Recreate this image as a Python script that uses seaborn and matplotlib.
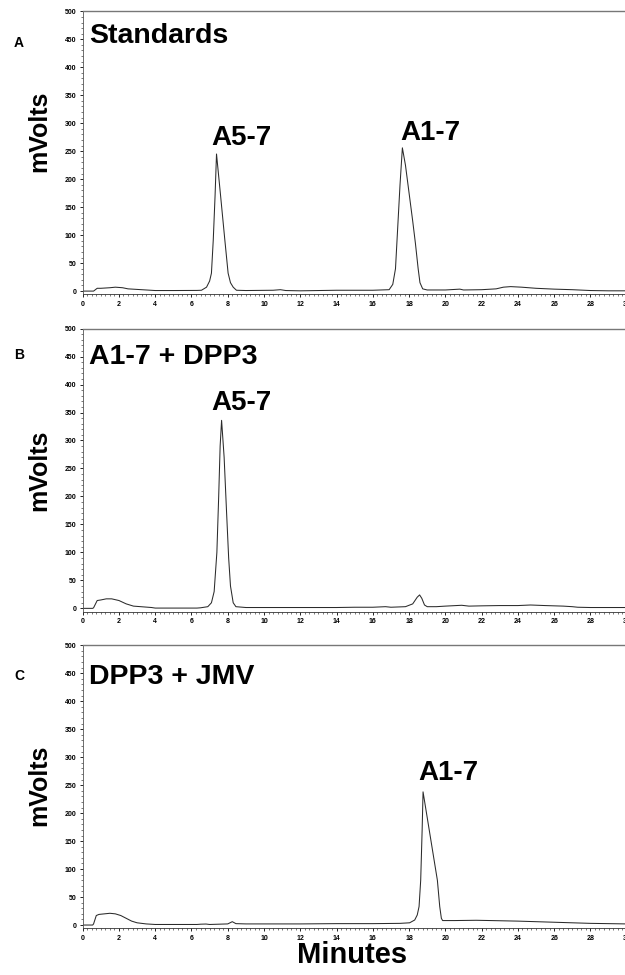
import matplotlib

matplotlib.use("Agg")
import matplotlib.pyplot as plt
import pandas as pd
import seaborn as sns
from matplotlib.ticker import MultipleLocator

# retention time (min) / detector signal (mV)
TIME_A = [0, 0.6, 0.8, 1.0, 1.5, 1.8, 2.2, 2.5, 3.0, 3.5, 4.0, 5.0, 6.3, 6.55, 6.83, 7.0,
          7.1, 7.2, 7.3, 7.38, 7.6, 7.84, 8.02, 8.15, 8.3, 8.48, 9.0, 10.5,
          10.9, 11.2, 12.0, 13.0, 14.0, 16.0, 16.9, 17.1, 17.25, 17.35, 17.5, 17.63,
          17.8, 18.0, 18.2, 18.35, 18.5, 18.6, 18.75, 19.0, 20.0, 20.8, 21.0, 22.0,
          22.8, 23.2, 23.6, 24.2, 25.0, 26.0, 27.0, 28.0, 29.0, 30.0]
MV_A = [0, 0, 5, 5, 6, 7, 6, 4, 3, 2, 1, 1, 1.2, 1.5, 7, 18,
        32, 91, 170, 245, 172, 91, 32, 15, 7, 1.5, 1, 1.5,
        2.5, 1, 0.5, 1, 1.5, 1.5, 2.5, 12, 40, 100, 190, 256,
        225, 175, 125, 85, 40, 15, 4, 2, 2, 3.5, 2, 2.5,
        4, 7, 8, 7, 5, 3.5, 2.5, 1, 0.5, 0.5]

TIME_B = [0, 0.55, 0.6, 0.8, 1.0, 1.3, 1.6, 2.0, 2.4, 2.8, 3.2, 3.8, 4.0, 6.3, 6.5,
          6.9, 7.1, 7.25, 7.4, 7.5, 7.58, 7.66, 7.8, 7.93, 8.05, 8.15, 8.3, 8.45, 9.0,
          14.0, 15.0, 16.0, 16.7, 17.0, 17.8, 18.2, 18.45, 18.58, 18.7, 18.85, 19.0,
          19.5, 20.0, 20.9, 21.3, 22.0, 23.0, 24.0, 24.7, 25.5, 26.5, 27.0, 27.3,
          28.0, 30.0]
MV_B = [0, 0, 1, 14, 15, 17, 17, 14, 8, 4, 3, 1.5, 0.5, 0.5, 1,
        3, 10, 30, 100, 200, 290, 336, 270, 175, 90, 40, 10, 3, 1.5,
        1.5, 2, 2, 3, 2, 3, 8, 20, 24, 18, 6, 3,
        3, 4, 5.5, 4, 4.5, 5, 5, 6, 5, 4, 3, 2,
        1.5, 1.5]

TIME_C = [0, 0.55, 0.6, 0.75, 0.9, 1.2, 1.5, 1.8, 2.1, 2.4, 2.7, 3.0, 3.5, 4.0, 6.3,
          6.5, 6.8, 7.0, 7.5, 8.0, 8.25, 8.45, 9.0, 12.0, 14.0, 16.0, 17.5, 18.03,
          18.31, 18.45, 18.55, 18.64, 18.72, 18.77, 19.0, 19.2, 19.4, 19.56, 19.69,
          19.78, 19.85, 20.5, 21.7, 22.5, 24.0, 25.0, 26.0, 27.0, 28.0, 30.0]
MV_C = [0, 0, 2, 17, 19, 20, 21, 20, 17, 12, 7, 4, 2, 1, 1,
        1.5, 1.8, 1, 1.5, 2, 6, 2.5, 2, 2, 2.5, 2.5, 3, 4,
        9, 18, 33, 80, 170, 238, 192, 152, 112, 80, 33,
        12, 8, 8, 8.5, 8, 7, 6, 5, 4, 3, 2]

PANEL_LETTERS = ["A", "B", "C"]
PANEL_TITLES = ["Standards", "A1-7 + DPP3", "DPP3 + JMV"]
# (label, x, y) in data units
PEAK_LABELS = [
    [("A5-7", 8.76, 261), ("A1-7", 19.19, 270)],
    [("A5-7", 8.78, 354)],
    [("A1-7", 20.14, 259)],
]

sns.set_style("ticks")
plt.rcParams["font.family"] = ["Liberation Sans", "DejaVu Sans"]
plt.rcParams["font.weight"] = "bold"
plt.rcParams["text.color"] = "black"

fig = plt.figure(figsize=(6.25, 9.75), dpi=100)

bottoms = [0.698, 0.3726, 0.0478]
title_y = [0.888, 0.876, 0.864]
ylabel_y = [0.8656, 0.5174, 0.1949]
letter_y = [0.956, 0.636, 0.3067]
traces = [(TIME_A, MV_A), (TIME_B, MV_B), (TIME_C, MV_C)]

for i, (t, mv) in enumerate(traces):
    ax = fig.add_axes([0.1323, bottoms[i], 0.8704, 0.2904])
    df = pd.DataFrame({"minutes": t, "mvolts": mv})
    sns.lineplot(data=df, x="minutes", y="mvolts", ax=ax, color="#2b2b2b", linewidth=0.75)

    ax.set_xlim(0, 30)
    ax.set_ylim(-6, 500)
    ax.xaxis.set_major_locator(MultipleLocator(2))
    ax.xaxis.set_minor_locator(MultipleLocator(0.25))
    ax.yaxis.set_major_locator(MultipleLocator(50))
    ax.yaxis.set_minor_locator(MultipleLocator(10))
    ax.tick_params(axis="both", which="major", labelsize=5, length=2.5, width=0.6,
                   pad=2, colors="black")
    ax.tick_params(axis="both", which="minor", length=1.5, width=0.5, colors="#444444")
    for lab in ax.get_xticklabels() + ax.get_yticklabels():
        lab.set_fontweight("bold")
    ax.set_xlabel("")
    ax.set_ylabel("")
    ax.spines["right"].set_visible(False)
    ax.spines["top"].set_color("#777777")
    ax.spines["top"].set_linewidth(1.0)
    ax.spines["left"].set_color("#555555")
    ax.spines["left"].set_linewidth(0.6)
    ax.spines["bottom"].set_color("#333333")
    ax.spines["bottom"].set_linewidth(0.6)

    ax.text(0.012, title_y[i], PANEL_TITLES[i], transform=ax.transAxes,
            fontsize=20.5, fontweight="bold", ha="left", va="baseline")
    for label, x, y in PEAK_LABELS[i]:
        ax.text(x, y, label, fontsize=20, fontweight="bold", ha="center", va="baseline")

    fig.text(0.0624, ylabel_y[i], "mVolts", rotation=90, fontsize=18,
             fontweight="bold", ha="center", va="center")
    fig.text(0.0304, letter_y[i], PANEL_LETTERS[i], fontsize=10,
             fontweight="bold", ha="center", va="center")

fig.text(0.563, 0.0205, "Minutes", fontsize=21, fontweight="bold",
         ha="center", va="center")

fig.savefig("out.png", dpi=100)
